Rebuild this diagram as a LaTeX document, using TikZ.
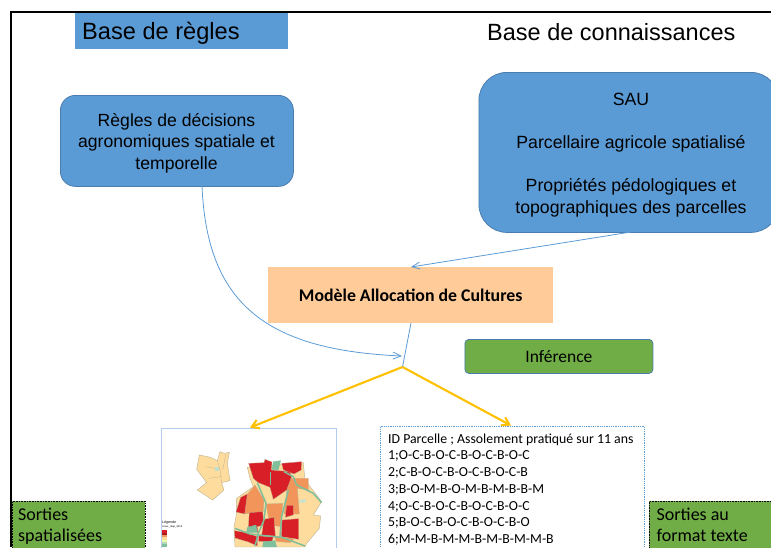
\documentclass[tikz,border=0pt]{standalone}
\usepackage{fontspec}
\setmainfont{Liberation Sans}
\newfontfamily\calfont{Carlito}
\usetikzlibrary{arrows.meta}
\definecolor{bluefill}{HTML}{5B9BD5}
\definecolor{blueedge}{HTML}{4A7DAE}
\definecolor{peach}{HTML}{FFCC99}
\definecolor{greenfill}{HTML}{70AD47}
\definecolor{orangeline}{HTML}{FFC000}
\definecolor{mapsand}{HTML}{FEDC9E}
\definecolor{mapred}{HTML}{D81E26}
\definecolor{maporange}{HTML}{F2955A}
\definecolor{mapteal}{HTML}{7FBF9B}
\definecolor{mapline}{HTML}{BDB28F}
\definecolor{imgedge}{HTML}{B4CDEE}
\tikzset{
  bluebox/.style={draw=blueedge,fill=bluefill,line width=.8pt,align=center,inner sep=0pt,anchor=north west},
  thinarrow/.style={draw=bluefill,line width=.8pt,-{Straight Barb[length=8pt,width=7pt]}},
  thinline/.style={draw=bluefill,line width=.8pt},
  goldarrow/.style={draw=orangeline,line width=2.1pt,-{Straight Barb[length=7pt,width=9pt]}},
  greenlabel/.style={draw=black,densely dotted,fill=greenfill,line width=.6pt,anchor=north west,inner sep=0pt},
  mapS/.style={fill=mapsand,draw=mapline,line width=.4pt},
  mapR/.style={fill=mapred,draw=mapline,line width=.3pt},
  mapO/.style={fill=maporange,draw=mapline,line width=.3pt},
  mapT/.style={draw=mapteal,line width=1.5pt},
  mapTF/.style={fill=mapteal,draw=mapteal,line width=.3pt},
}
\begin{document}
\begin{tikzpicture}[x=1pt,y=-1pt]
\useasboundingbox (0,0) rectangle (771,547);
\begin{scope}
\clip (0,0) rectangle (771,547);
% frame
\draw[black,line width=2pt] (11,547) -- (11,12) -- (771,12);
% title
\node[anchor=north west,fill=bluefill,minimum width=213pt,minimum height=36pt,inner sep=0pt] (titleR) at (75,13) {};
\node[anchor=west,font=\fontsize{23.6}{26}\selectfont,inner sep=0pt] (titleRt) at (82,33.5) {Base de règles};
\node[anchor=west,font=\fontsize{23.5}{26}\selectfont,inner sep=0pt] (titleK) at (487,32.5) {Base de connaissances};
% boxes
\node[bluebox,rounded corners=15pt,minimum width=233pt,minimum height=91pt] (rules) at (60,95) {};
\node[align=center,inner sep=0pt,font=\fontsize{17.6}{21.6}\selectfont] (rulest) at (176.5,143) {Règles de décisions\\agronomiques spatiale et\\temporelle};
\node[bluebox,rounded corners=28pt,minimum width=300pt,minimum height=160pt] (know) at (478.5,72) {};
\node[align=center,font=\fontsize{17.7}{21.6}\selectfont,inner sep=0pt] (knowt) at (631,155) {SAU\\[21.6pt]Parcellaire agricole spatialisé\\[21.6pt]Propriétés pédologiques et\\topographiques des parcelles};
\node[anchor=north west,fill=peach,minimum width=285pt,minimum height=56pt,inner sep=0pt,font=\calfont\bfseries\fontsize{17.8}{19}\selectfont] (model) at (268,267) {Modèle Allocation de Cultures};
\node[bluebox,fill=greenfill,rounded corners=4pt,minimum width=188pt,minimum height=34pt,font=\calfont\fontsize{17.5}{20}\selectfont] (infer) at (464.5,339) {Inférence};
% outputs frames
\node[anchor=north west,draw=imgedge,fill=white,line width=.8pt,minimum width=175pt,minimum height=125pt,inner sep=0pt] (img) at (161,428) {};
\node[anchor=north west,draw=bluefill,densely dotted,fill=white,line width=.8pt,minimum width=264pt,minimum height=130pt,inner sep=0pt] (txt) at (380,426) {};
\node[anchor=north west,inner sep=0pt,align=left,font=\calfont\fontsize{13.8}{16.7}\selectfont] (txtc) at (388,433.5) {ID Parcelle ; Assolement pratiqué sur 11 ans\\1;O-C-B-O-C-B-O-C-B-O-C\\2;C-B-O-C-B-O-C-B-O-C-B\\3;B-O-M-B-O-M-B-M-B-B-M\\4;O-C-B-O-C-B-O-C-B-O-C\\5;B-O-C-B-O-C-B-O-C-B-O\\6;M-M-B-M-M-B-M-B-M-M-B};
% map
\begin{scope}[shift={(140,410)},x=.3333pt,y=-.3333pt]
\filldraw[mapS] (178,135) -- (212,142) -- (232,152) -- (240,125) -- (252,130) -- (268,127) -- (262,160) -- (270,212) -- (245,218) -- (252,240) -- (218,270) -- (172,240) -- (200,218) -- (170,178) -- cycle;
\draw[mapline,line width=.3pt] (198,170) -- (240,178) -- (245,218) (205,205) -- (245,200) (232,152) -- (240,178) (258,132) -- (248,180);
\filldraw[fill=mapteal!50,draw=none] (226,172) rectangle (238,184);
% east sand base
\filldraw[mapS] (322,172) -- (490,158) -- (495,210) -- (545,275) -- (520,315) -- (542,318) -- (538,355) -- (500,400) -- (495,411) -- (285,411) -- (282,350) -- (290,310) -- (290,265) -- (340,230) -- (330,205) -- cycle;
\filldraw[mapO] (345,225) -- (318,258) -- (312,312) -- (370,305) -- (372,270) -- cycle;
\filldraw[mapO] (440,205) -- (505,205) -- (505,240) -- (472,235) -- (478,312) -- (432,312) -- (440,260) -- cycle;
\filldraw[mapO] (378,282) -- (428,280) -- (424,350) -- (390,345) -- cycle;
\filldraw[mapR] (326,160) -- (372,158) -- (375,148) -- (396,156) -- (394,180) -- (450,185) -- (455,200) -- (440,240) -- (400,268) -- (390,232) -- (355,218) -- (340,205) -- cycle;
\filldraw[mapR] (425,160) -- (485,155) -- (484,180) -- (462,192) -- (430,180) -- cycle;
\filldraw[mapR] (440,286) -- (460,286) -- (460,315) -- (436,322) -- cycle;
\filldraw[mapR] (302,262) -- (322,252) -- (314,312) -- (288,306) -- cycle;
\filldraw[mapR] (328,308) -- (368,305) -- (372,345) -- (352,350) -- (354,368) -- (325,352) -- cycle;
\filldraw[mapR] (372,328) -- (402,322) -- (406,378) -- (365,376) -- cycle;
\filldraw[mapR] (426,330) -- (476,326) -- (476,388) -- (424,380) -- cycle;
\filldraw[mapR] (283,362) -- (320,368) -- (352,380) -- (352,408) -- (325,396) -- (285,384) -- cycle;
\filldraw[mapR] (356,378) -- (400,380) -- (396,396) -- (356,394) -- cycle;
\filldraw[mapO] (405,378) -- (462,387) -- (450,398) -- (408,394) -- cycle;
\filldraw[mapTF] (400,155) -- (422,152) -- (415,180) -- (396,178) -- cycle;
\filldraw[mapTF] (322,352) -- (348,345) -- (352,368) -- (320,368) -- cycle;
\filldraw[mapTF] (370,395) -- (405,392) -- (410,411) -- (368,411) -- cycle;
\filldraw[fill=mapteal!45,draw=none] (478,270) -- (498,268) -- (495,278) -- (478,278) -- cycle;
\draw[mapT] (352,218) -- (378,280) -- (372,330) -- (355,370) -- (345,408);
\draw[mapT,line width=1pt] (392,185) -- (392,225);
\draw[mapT] (432,185) -- (460,200) -- (470,225) -- (520,250) -- (545,278);
\draw[mapT] (445,240) -- (425,320) -- (420,380) -- (495,408);
\draw[mapT] (285,355) -- (330,372) -- (420,382);
\node[anchor=west,inner sep=0pt,font=\fontsize{3.6}{4}\selectfont] (legA) at (66,337) {Légende};
\node[anchor=west,inner sep=0pt,font=\fontsize{2.6}{3}\selectfont] (legB) at (66,352) {cover\_map\_2012};
\fill[mapred] (66,361) rectangle (80,368);
\fill[mapred!80!black] (66,368) rectangle (80,375);
\fill[maporange] (66,375) rectangle (80,382);
\fill[mapsand] (66,382) rectangle (80,389);
\fill[green!25!yellow!35] (66,389) rectangle (80,396);
\fill[mapteal!60] (66,396) rectangle (80,403);
\fill[mapteal] (66,403) rectangle (80,411);
\end{scope}
\node[greenlabel,minimum width=133pt,minimum height=50pt] (sortA) at (12,501) {};
\node[anchor=north west,inner sep=0pt,align=left,font=\calfont\fontsize{18}{21}\selectfont] (sortAt) at (18,508) {Sorties\\spatialisées};
\node[greenlabel,minimum width=130pt,minimum height=50pt] (sortB) at (649,501) {};
\node[anchor=north west,inner sep=0pt,align=left,font=\calfont\fontsize{18}{21}\selectfont] (sortBt) at (656.5,508) {Sorties au\\format texte};
% connectors
\coordinate (join) at (402.5,367);
\coordinate (mid) at (402,356);
\coordinate (rulesout) at (202,186);
\coordinate (knowout) at (631,232);
\coordinate (modelin) at (411,267);
\coordinate (modelout) at (411,323);
\coordinate (imgin) at (250,427.5);
\coordinate (txtin) at (511,425.5);
\draw[thinarrow] (rulesout) .. controls (207,303) and (265,350) .. (mid);
\draw[thinarrow] (knowout) -- (modelin);
\draw[thinline] (modelout) -- (join);
\draw[goldarrow] (join) -- (imgin);
\draw[goldarrow] (join) -- (txtin);
\end{scope}
\end{tikzpicture}
\end{document}
